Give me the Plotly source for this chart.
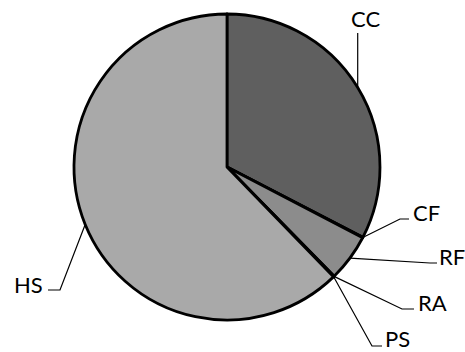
import math
import plotly.graph_objects as go

labels = ["CC", "CF", "RF", "RA", "PS", "HS"]
values = [32.6, 0.05, 5.0, 0.05, 0.05, 62.25]
colors = ["#5f5f5f", "#7a7a7a", "#8c8c8c", "#8c8c8c", "#a0a0a0", "#a9a9a9"]

W, H = 465, 352
CX, CY, R = 227, 167, 153

# label layout (pixel positions of elbow, line end, text)
label_layout = {
    "CC": dict(elbow=None, end_y=33, text=(365, 18), anchor="center"),
    "CF": dict(elbow=(400, 219), end=(409, 219), text=(411, 212), anchor="left"),
    "RF": dict(elbow=(430, 263), end=(437, 263), text=(437, 256), anchor="left"),
    "RA": dict(elbow=(402, 309), end=(414, 309), text=(416, 302), anchor="left"),
    "PS": dict(elbow=(372, 346), end=(382, 346), text=(383, 338), anchor="left"),
    "HS": dict(elbow=(60, 290), end=(48, 290), text=(45, 284), anchor="right"),
}

def px(x):
    return x / W

def py(y):
    return 1 - y / H

fig = go.Figure(go.Pie(
    labels=labels, values=values, sort=False, direction="clockwise", rotation=0,
    marker=dict(colors=colors, line=dict(color="black", width=2.8)),
    textinfo="none", hoverinfo="label+percent", showlegend=False,
    domain=dict(x=[px(CX - R), px(CX + R)], y=[py(CY + R), py(CY - R)]),
))

total = sum(values)
cum = 0.0
shapes = []
annotations = []
for lab, v in zip(labels, values):
    mid = (cum + v / 2) / total * 2 * math.pi
    cum += v
    ax = CX + R * math.sin(mid)
    ay = CY - R * math.cos(mid)
    L = label_layout[lab]
    if L["elbow"] is None:
        pts = [(ax, ay), (ax, L["end_y"])]
    else:
        pts = [(ax, ay), L["elbow"], L["end"]]
    path = "M " + " L ".join(f"{px(x)},{py(y)}" for x, y in pts)
    shapes.append(dict(type="path", path=path, xref="paper", yref="paper",
                       line=dict(color="black", width=1.2)))
    tx, ty = L["text"]
    annotations.append(dict(text=lab, x=px(tx), y=py(ty), xref="paper", yref="paper",
                            showarrow=False, xanchor=L["anchor"], yanchor="middle",
                            font=dict(family="Lato", size=22, color="black")))

fig.update_layout(
    width=W, height=H, margin=dict(l=0, r=0, t=0, b=0),
    paper_bgcolor="white", plot_bgcolor="white",
    shapes=shapes, annotations=annotations,
)
fig.write_html("out.html", config={"displayModeBar": False},
               post_script="document.body.style.margin='0';document.body.style.overflow='hidden';")
